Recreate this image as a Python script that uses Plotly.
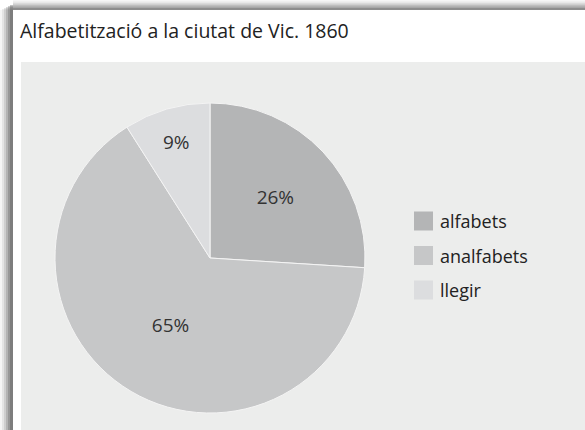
import plotly.graph_objects as go

labels = ["alfabets", "analfabets", "llegir"]
values = [26, 65, 9]
colors = ["#b4b5b6", "#c6c7c8", "#dcdddf"]
title_text = "Alfabetització a la ciutat de Vic. 1860"

W, H = 585, 430
def px(x): return x / W
def py(y): return 1 - y / H

FONT = "Open Sans"

fig = go.Figure(go.Pie(
    labels=labels, values=values, sort=False, direction="clockwise", rotation=0,
    marker=dict(colors=colors, line=dict(color="#f4f4f4", width=1)),
    texttemplate="%{value}%", textposition="inside",
    insidetextorientation="horizontal",
    textfont=dict(family=FONT, size=19, color="#333333"),
    domain=dict(x=[px(55), px(365)], y=[py(413), py(103)]),
    hoverinfo="label+percent",
    showlegend=False,
))

shapes = []
annotations = []
# shadow on left and top of the card
for i, op in enumerate([0.06, 0.10, 0.15, 0.21, 0.28, 0.36]):
    shapes.append(dict(type="rect", xref="paper", yref="paper",
                       x0=px(2 * i), x1=px(13), y0=py(H), y1=py(10 - i),
                       fillcolor="rgba(80,80,80,%.2f)" % op, line_width=0, layer="below"))
    shapes.append(dict(type="rect", xref="paper", yref="paper",
                       x0=px(13), x1=1, y0=py(10), y1=py(1.6 * i),
                       fillcolor="rgba(80,80,80,%.2f)" % (op * 0.8), line_width=0, layer="below"))
# gray panel
shapes.append(dict(type="rect", xref="paper", yref="paper",
                   x0=px(21), x1=1, y0=0, y1=py(62),
                   fillcolor="#ecedec", line_width=0, layer="below"))

# legend (squares + labels)
for i, (lab, col) in enumerate(zip(labels, colors)):
    yc = 221 + 34.5 * i
    shapes.append(dict(type="rect", xref="paper", yref="paper",
                       x0=px(414), x1=px(433), y0=py(yc + 9.5), y1=py(yc - 9.5),
                       fillcolor=col, line_width=0, layer="above"))
    annotations.append(dict(text=lab, xref="paper", yref="paper", x=px(438), y=py(yc),
                            xanchor="left", yanchor="middle", showarrow=False,
                            font=dict(family=FONT, size=18, color="#222222")))

annotations.append(dict(text=title_text, xref="paper", yref="paper", x=px(18), y=py(31),
                        xanchor="left", yanchor="middle", showarrow=False,
                        font=dict(family=FONT, size=19.5, color="#222222")))

fig.update_layout(
    width=W, height=H,
    margin=dict(l=0, r=0, t=0, b=0),
    paper_bgcolor="white",
    shapes=shapes,
    annotations=annotations,
)

fig.write_html("out.html", config={"displayModeBar": False},
               post_script="document.body.style.margin='0';document.body.style.overflow='hidden';")
